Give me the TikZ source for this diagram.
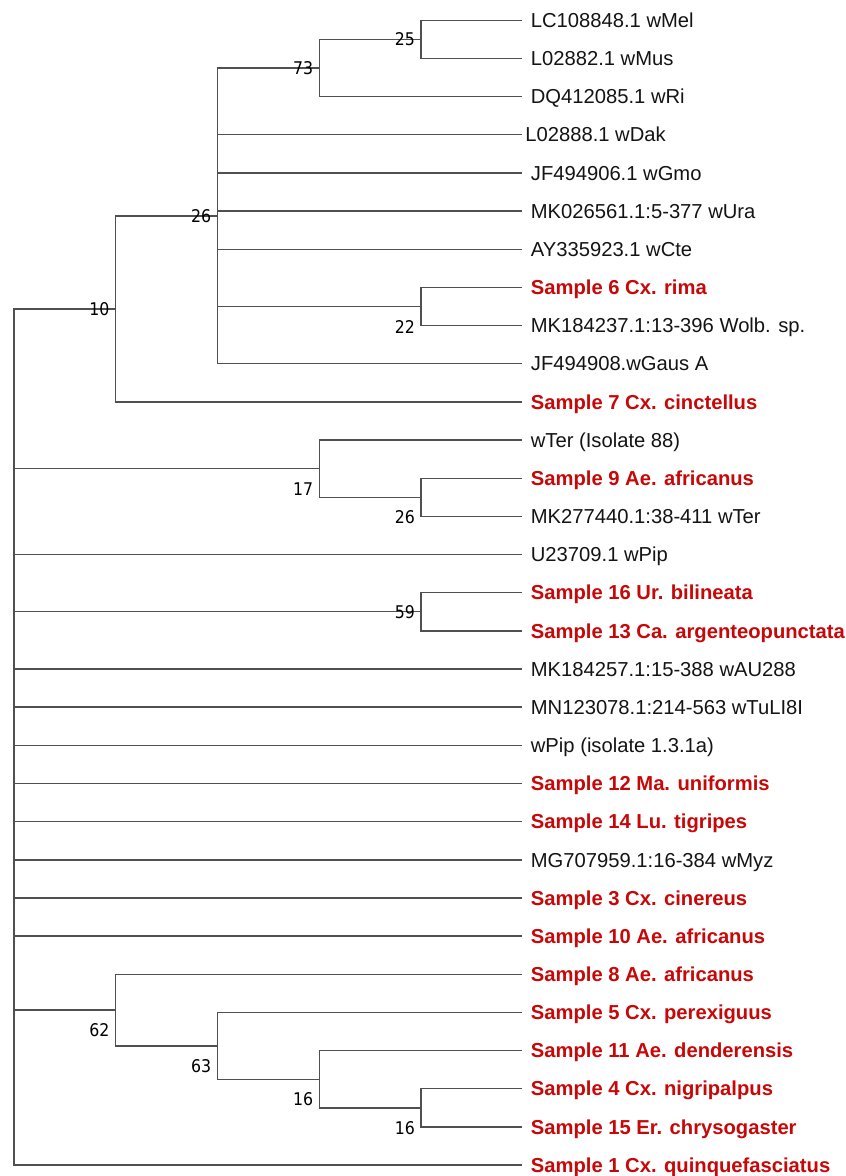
\documentclass[tikz,border=0pt]{standalone}
\usepackage{fontspec}
\setmainfont{Liberation Sans}
\newfontfamily\bsfont{DejaVu Sans Condensed}
\definecolor{branchgray}{RGB}{80,80,80}
\definecolor{samplered}{RGB}{200,8,8}
\definecolor{leafblack}{RGB}{20,20,20}
\begin{document}
\begin{tikzpicture}[x=1pt,y=-1pt,
  br/.style={draw=branchgray, line width=1.4pt},
  lf/.style={anchor=base west, inner sep=0pt, font=\fontsize{20.2}{24}\selectfont, text=leafblack},
  smp/.style={anchor=base west, inner sep=0pt, font=\fontsize{20.2}{24}\selectfont\bfseries, text=samplered},
  bs/.style={anchor=east, inner sep=0pt, font=\bsfont\fontsize{17.5}{20}\selectfont, text=black}]
\fill[white] (0,0) rectangle (846,1176);
\useasboundingbox (0,0) rectangle (846,1176);

% leaf tips and labels
\foreach \i/\t/\s/\dx in {
 1/LC108848.1 wMel/lf/9,
 2/L02882.1 wMus/lf/9,
 3/DQ412085.1 wRi/lf/9,
 4/L02888.1 wDak/lf/3.5,
 5/JF494906.1 wGmo/lf/9,
 6/MK026561.1:5-377 wUra/lf/9,
 7/AY335923.1 wCte/lf/9,
 8/Sample 6 Cx. rima/smp/9,
 9/MK184237.1:13-396 Wolb. sp./lf/9,
 10/JF494908.wGaus A/lf/9,
 11/Sample 7 Cx. cinctellus/smp/9,
 12/wTer (Isolate 88)/lf/9,
 13/Sample 9 Ae. africanus/smp/9,
 14/MK277440.1:38-411 wTer/lf/9,
 15/U23709.1 wPip/lf/9,
 16/Sample 16 Ur. bilineata/smp/9,
 17/Sample 13 Ca. argenteopunctata/smp/9,
 18/MK184257.1:15-388 wAU288/lf/9,
 19/MN123078.1:214-563 wTuLI8I/lf/9,
 20/wPip (isolate 1.3.1a)/lf/9,
 21/Sample 12 Ma. uniformis/smp/9,
 22/Sample 14 Lu. tigripes/smp/9,
 23/MG707959.1:16-384 wMyz/lf/9,
 24/Sample 3 Cx. cinereus/smp/9,
 25/Sample 10 Ae. africanus/smp/9,
 26/Sample 8 Ae. africanus/smp/9,
 27/Sample 5 Cx. perexiguus/smp/9,
 28/Sample 11 Ae. denderensis/smp/9,
 29/Sample 4 Cx. nigripalpus/smp/9,
 30/Sample 15 Er. chrysogaster/smp/9,
 31/Sample 1 Cx. quinquefasciatus/smp/9}{
  \coordinate (t\i) at (521.7,{20.3+(\i-1)*38.16});
  \node[\s] (l\i) at ([xshift=\dx pt,yshift=-7.2pt]t\i) {\t};
}

% internal nodes
\coordinate (n25)  at (421,39.38);
\coordinate (n73)  at (319.3,68);
\coordinate (n22)  at (421,306.5);
\coordinate (n26a) at (217.3,215.87);
\coordinate (n10)  at (115.7,308.89);
\coordinate (n26b) at (421,497.3);
\coordinate (n17)  at (319.3,468.68);
\coordinate (n59)  at (421,611.78);
\coordinate (n16b) at (421,1107.86);
\coordinate (n16a) at (319.3,1079.24);
\coordinate (n63)  at (217.3,1045.85);
\coordinate (n62)  at (115.7,1010.08);
\coordinate (rt)   at (14,737);

% branches
\draw[br] (n25) |- (t1) (n25) |- (t2);
\draw[br] (n73) |- (n25) (n73) |- (t3);
\draw[br] (n22) |- (t8) (n22) |- (t9);
\draw[br] (n26a) |- (n73) (n26a) |- (t4) (n26a) |- (t5) (n26a) |- (t6)
          (n26a) |- (t7) (n26a) |- (n22) (n26a) |- (t10);
\draw[br] (n10) |- (n26a) (n10) |- (t11);
\draw[br] (n26b) |- (t13) (n26b) |- (t14);
\draw[br] (n17) |- (t12) (n17) |- (n26b);
\draw[br] (n59) |- (t16) (n59) |- (t17);
\draw[br] (n16b) |- (t29) (n16b) |- (t30);
\draw[br] (n16a) |- (t28) (n16a) |- (n16b);
\draw[br] (n63) |- (t27) (n63) |- (n16a);
\draw[br] (n62) |- (t26) (n62) |- (n63);
\draw[br] (rt) |- (n10) (rt) |- (n17) (rt) |- (t15) (rt) |- (n59)
          (rt) |- (t18) (rt) |- (t19) (rt) |- (t20) (rt) |- (t21)
          (rt) |- (t22) (rt) |- (t23) (rt) |- (t24) (rt) |- (t25)
          (rt) |- (n62) (rt) |- (t31);

% bootstrap values
\node[bs] (b25)  at ([xshift=-6pt]n25) {25};
\node[bs] (b73)  at ([xshift=-6pt]n73) {73};
\node[bs] (b26a) at ([xshift=-6pt]n26a) {26};
\node[bs] (b10)  at ([xshift=-6pt]n10) {10};
\node[bs] (b59)  at ([xshift=-6pt]n59) {59};
\node[bs] (b22)  at ([xshift=-6pt,yshift=-20pt]n22) {22};
\node[bs] (b17)  at ([xshift=-6pt,yshift=-20pt]n17) {17};
\node[bs] (b26b) at ([xshift=-6pt,yshift=-20pt]n26b) {26};
\node[bs] (b62)  at ([xshift=-6pt,yshift=-20pt]n62) {62};
\node[bs] (b63)  at ([xshift=-6pt,yshift=-20pt]n63) {63};
\node[bs] (b16a) at ([xshift=-6pt,yshift=-20pt]n16a) {16};
\node[bs] (b16b) at ([xshift=-6pt,yshift=-20pt]n16b) {16};
\end{tikzpicture}
\end{document}
